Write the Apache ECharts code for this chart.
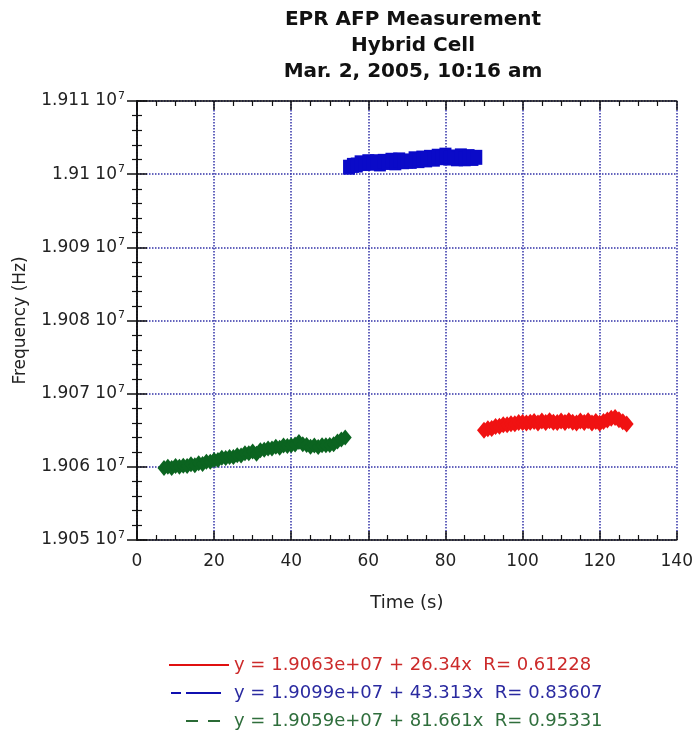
<!DOCTYPE html>
<html>
<head>
<meta charset="utf-8">
<script src="https://cdn.jsdelivr.net/npm/echarts@6/dist/echarts.min.js"></script>
<style>
  html, body { margin: 0; padding: 0; background: #fff; }
  #chart { width: 696px; height: 753px; }
</style>
</head>
<body>
<div id="chart"></div>
<script>
// tick labels
var yTickLabels = ['1.905', '1.906', '1.907', '1.908', '1.909', '1.91', '1.911'];
var xTickLabels = ['0', '20', '40', '60', '80', '100', '120', '140'];

// green run (Hz vs s)
var greenTime = [7, 8, 9, 10, 11, 12, 13, 14, 15, 16, 17, 18, 19, 20, 21, 22, 23, 24, 25, 26, 27, 28, 29, 30,
                 31, 32, 33, 34, 35, 36, 37, 38, 39, 40, 41, 42, 43, 44, 45, 46, 47, 48, 49, 50, 51, 52, 53, 54];
var greenFreq = [19059850, 19060000, 19059850, 19060100, 19060000, 19060150, 19060100, 19060350, 19060200, 19060500,
                 19060400, 19060700, 19060700, 19060950, 19060950, 19061250, 19061200, 19061350, 19061350, 19061600,
                 19061550, 19061850, 19061850, 19062100, 19061800, 19062250, 19062350, 19062500, 19062500, 19062750,
                 19062600, 19062900, 19062850, 19062950, 19063050, 19063400, 19063100, 19063000, 19062750, 19062900,
                 19062700, 19062950, 19062950, 19063000, 19063100, 19063450, 19063750, 19064000];

// blue run
var blueTime = [55, 56, 57, 58, 59, 60, 61, 62, 63, 64, 65, 66, 67, 68, 69, 70, 71, 72, 73, 74, 75, 76, 77, 78,
                79, 80, 81, 82, 83, 84, 85, 86, 87, 88];
var blueFreq = [19100950, 19101200, 19101250, 19101550, 19101450, 19101700, 19101500, 19101700, 19101400, 19101750,
                19101600, 19101900, 19101550, 19101950, 19101700, 19101800, 19101750, 19102100, 19101850, 19102200,
                19101950, 19102300, 19102050, 19102450, 19102250, 19102600, 19102200, 19102350, 19102100, 19102500,
                19102100, 19102400, 19102150, 19102300];

// red run
var redTime = [90, 91, 92, 93, 94, 95, 96, 97, 98, 99, 100, 101, 102, 103, 104, 105, 106, 107, 108, 109, 110,
               111, 112, 113, 114, 115, 116, 117, 118, 119, 120, 121, 122, 123, 124, 125, 126, 127];
var redFreq = [19065000, 19065200, 19065250, 19065500, 19065550, 19065750, 19065750, 19065900, 19065900, 19066050,
               19066050, 19066000, 19066100, 19066200, 19066000, 19066250, 19066050, 19066300, 19066100, 19066050,
               19066250, 19066050, 19066300, 19066100, 19066000, 19066250, 19066050, 19066300, 19066000, 19066200,
               19065950, 19066200, 19066400, 19066650, 19066750, 19066450, 19066150, 19065850];

// fit lines (end points) and legend texts
var fitNames = ['y = 1.9063e+07 + 26.34x  R= 0.61228',
                'y = 1.9099e+07 + 43.313x  R= 0.83607',
                'y = 1.9059e+07 + 81.661x  R= 0.95331'];
var redFit = [[89, 19065344], [127, 19066345]];
var blueFit = [[55, 19101382], [88, 19102812]];
var greenFit = [[7, 19059572], [53, 19063328]];

function pairs(t, v) {
    var out = [];
    for (var i = 0; i < t.length; i++) out.push([t[i], v[i]]);
    return out;
}

var chart = echarts.init(document.getElementById('chart'));
var font = '"DejaVu Sans", "Liberation Sans", Arial, sans-serif';

var option = {
    backgroundColor: '#fff',
    animation: false,
    textStyle: { fontFamily: font },
    title: {
        text: 'EPR AFP Measurement\nHybrid Cell\nMar. 2, 2005, 10:16 am',
        left: 408,
        top: 2,
        textAlign: 'center',
        textStyle: { fontSize: 20, fontWeight: 'bold', color: '#111', lineHeight: 26, fontFamily: font }
    },
    grid: { left: 137, right: 18, top: 101, bottom: 213 },
    legend: {
        orient: 'vertical',
        left: 163,
        top: 651,
        itemWidth: 60,
        itemHeight: 14,
        itemGap: 10,
        itemStyle: { opacity: 0 },
        textStyle: { fontSize: 18, fontFamily: font },
        data: [
            { name: fitNames[0], textStyle: { color: '#cc2a2a' } },
            { name: fitNames[1], textStyle: { color: '#2a2aa0' } },
            { name: fitNames[2], textStyle: { color: '#2f6e3c' } }
        ]
    },
    xAxis: [{
        type: 'value', min: 0, max: 140, interval: 20,
        axisLine: { lineStyle: { color: '#111', width: 1.5 } },
        axisTick: { inside: true, length: 9, lineStyle: { color: '#111', width: 1.5 } },
        minorTick: { show: true, splitNumber: 4, length: 5, lineStyle: { color: '#111', width: 1.2 } },
        splitLine: { show: true, lineStyle: { color: '#3232a8', type: 'dotted', width: 1.5 } },
        axisLabel: {
            margin: 13, fontSize: 17, color: '#222',
            formatter: function (v, i) { return xTickLabels[i]; }
        },
        name: 'Time (s)', nameLocation: 'middle', nameGap: 54,
        nameTextStyle: { fontSize: 18, color: '#222' }
    }, {
        type: 'value', min: 0, max: 140, interval: 20, position: 'top',
        axisLine: { lineStyle: { color: '#111', width: 1.5 } },
        axisTick: { inside: true, length: 9, lineStyle: { color: '#111', width: 1.5 } },
        minorTick: { show: true, splitNumber: 4, length: 5, lineStyle: { color: '#111', width: 1.2 } },
        splitLine: { show: false },
        axisLabel: { show: false }
    }],
    yAxis: [{
        type: 'value', min: 19050000, max: 19110000, interval: 10000,
        axisLine: { lineStyle: { color: '#111', width: 1.5 } },
        axisTick: { inside: true, length: 10, lineStyle: { color: '#111', width: 1.5 } },
        minorTick: { show: true, splitNumber: 5, length: 5, lineStyle: { color: '#111', width: 1.2 } },
        splitLine: { show: true, lineStyle: { color: '#3232a8', type: 'dotted', width: 1.5 } },
        axisLabel: {
            margin: 12, color: '#222',
            formatter: function (v, i) { return '{a|' + yTickLabels[i] + ' 10}{s|7}'; },
            rich: {
                a: { fontSize: 17, color: '#222', fontFamily: font },
                s: { fontSize: 11, color: '#222', fontFamily: font, verticalAlign: 'top', padding: [0, 0, 10, 1] }
            }
        },
        name: 'Frequency (Hz)', nameLocation: 'middle', nameGap: 108,
        nameTextStyle: { fontSize: 17, color: '#222' }
    }, {
        type: 'value', min: 19050000, max: 19110000, interval: 10000, position: 'right',
        axisLine: { lineStyle: { color: '#111', width: 1.5 } },
        axisTick: { inside: true, length: 10, lineStyle: { color: '#111', width: 1.5 } },
        minorTick: { show: true, splitNumber: 5, length: 5, lineStyle: { color: '#111', width: 1.2 } },
        splitLine: { show: false },
        axisLabel: { show: false }
    }],
    series: [
        {
            name: fitNames[0], type: 'line', data: redFit, showSymbol: false, symbol: 'none', z: 1,
            lineStyle: { color: '#e01010', width: 1.5, type: 'solid' }, itemStyle: { color: '#e01010' }
        },
        {
            name: fitNames[1], type: 'line', data: blueFit, showSymbol: false, symbol: 'none', z: 1,
            lineStyle: { color: '#1010b0', width: 1.5, type: [0.01, 2, 10, 5, 35, 100] }, itemStyle: { color: '#1010b0' }
        },
        {
            name: fitNames[2], type: 'line', data: greenFit, showSymbol: false, symbol: 'none', z: 1,
            lineStyle: { color: '#2a6a35', width: 1.5, type: [0.01, 17, 12, 10, 12, 100] }, itemStyle: { color: '#2a6a35' }
        },
        {
            name: 'green data', type: 'scatter', data: pairs(greenTime, greenFreq), z: 3,
            symbol: 'diamond', symbolSize: [13, 16], itemStyle: { color: '#0b6420', opacity: 1 }
        },
        {
            name: 'blue data', type: 'scatter', data: pairs(blueTime, blueFreq), z: 3,
            symbol: 'rect', symbolSize: [12, 15], itemStyle: { color: '#0a0ac8', opacity: 1 }
        },
        {
            name: 'red data', type: 'scatter', data: pairs(redTime, redFreq), z: 3,
            symbol: 'diamond', symbolSize: [14, 17], itemStyle: { color: '#f01212', opacity: 1 }
        }
    ]
};

chart.setOption(option);
</script>
</body>
</html>
